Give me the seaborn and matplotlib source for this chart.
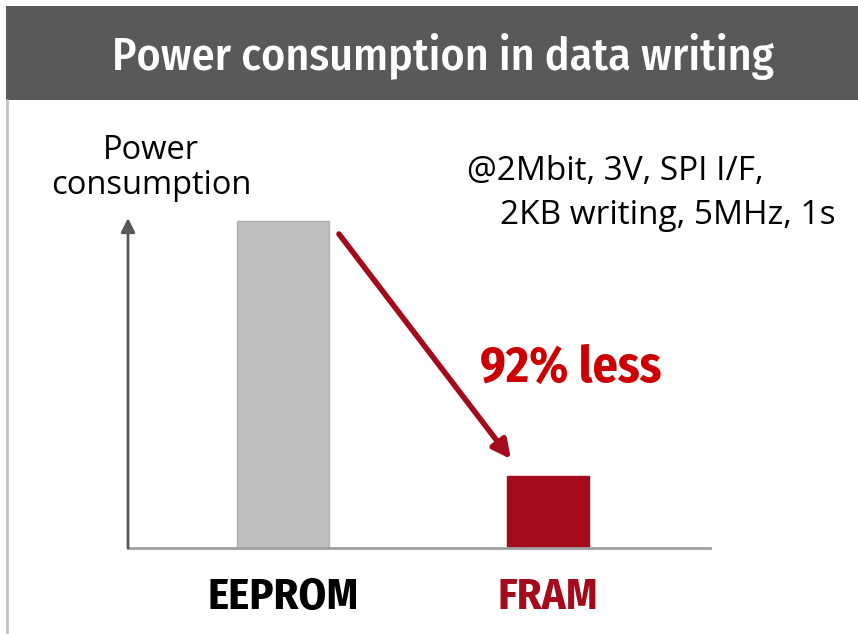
import matplotlib
matplotlib.use("Agg")
import matplotlib.pyplot as plt
import seaborn as sns
import pandas as pd
from matplotlib.patches import Rectangle
from matplotlib.lines import Line2D

# ---- data ----
categories = ["EEPROM", "FRAM"]
power_values = [100, 22]
title_text = "Power consumption in data writing"
ylabel_text = "Power\nconsumption"
condition_lines = ["@2Mbit, 3V, SPI I/F,", "2KB writing, 5MHz, 1s"]
reduction_text = "92% less"

bar_colors = ["#BFBFBF", "#A30B1D"]
label_colors = ["#000000", "#A30B1D"]

COND = ["Fira Sans Condensed", "DejaVu Sans"]

sns.set_theme(style="white")
plt.rcParams["font.family"] = ["Open Sans", "DejaVu Sans"]

W, H = 858, 634
fig = plt.figure(figsize=(W / 100, H / 100), dpi=100)
fig.patch.set_facecolor("white")

# axes placed in pixel space
left, right, top, bottom = 128, 710, 218, 548
ax = fig.add_axes([left / W, (H - bottom) / H, (right - left) / W, (bottom - top) / H])

df = pd.DataFrame({"chip": categories, "power": power_values})
sns.barplot(data=df, x="chip", y="power", hue="chip", palette=bar_colors,
            legend=False, width=0.33, ax=ax, saturation=1)

widths = [0.347, 0.31]
for p, w, c in zip(ax.patches, widths, bar_colors):
    cx = p.get_x() + p.get_width() / 2
    p.set_width(w)
    p.set_x(cx - w / 2)
    p.set_edgecolor("#AFAFAF" if c == "#BFBFBF" else c)
    p.set_linewidth(1)

ax.set_xlim(-0.585, 1.611)
ax.set_ylim(0, 101)
ax.set_xticks([])
ax.set_yticks([])
ax.set_xlabel("")
ax.set_ylabel("")
for s in ["top", "right", "left"]:
    ax.spines[s].set_visible(False)
ax.spines["bottom"].set_color("#A0A0A0")
ax.spines["bottom"].set_linewidth(2)

# y axis arrow
ax.annotate("", xy=(0, 1.0), xytext=(0, 0), xycoords="axes fraction",
            arrowprops=dict(arrowstyle="-|>,head_length=0.7,head_width=0.35",
                            color="#595959", lw=2, shrinkA=0, shrinkB=0))

# red reduction arrow from EEPROM top area to FRAM bar
ax.annotate("", xy=(0.86, power_values[1] + 5.2), xytext=(0.211, power_values[0] * 0.961),
            xycoords="data",
            arrowprops=dict(arrowstyle="-|>,head_length=0.9,head_width=0.45",
                            color="#A30B1D", lw=4, shrinkA=0, shrinkB=0))

# category labels
for i, (cat, col) in enumerate(zip(categories, label_colors)):
    ax.text(i, -0.152, cat, transform=ax.get_xaxis_transform(), ha="center", va="center",
            fontsize=32, fontweight="bold", color=col, family=COND)

# title bar
fig.patches.append(Rectangle((6 / W, (H - 100) / H), 1 - 6 / W, 94 / H,
                             transform=fig.transFigure, facecolor="#595959",
                             edgecolor="none", zorder=0))
fig.lines.append(Line2D([7 / W, 7 / W], [0, (H - 100) / H], transform=fig.transFigure,
                        color="#C0C0C0", lw=2))
fig.text(443 / W, 1 - 57 / H, title_text, ha="center", va="center", color="white",
         fontsize=33, fontweight="medium", family=COND)

# y label
fig.text(151 / W, 1 - 168 / H, ylabel_text, ha="center", va="center", fontsize=23.5,
         linespacing=1.1, color="#000000")

# condition text
fig.text(467 / W, 1 - 172 / H, condition_lines[0], ha="left", va="center", fontsize=24,
         color="#000000")
fig.text(500 / W, 1 - 216 / H, condition_lines[1], ha="left", va="center", fontsize=24,
         color="#000000")

# reduction text
fig.text(571 / W, 1 - 369 / H, reduction_text, ha="center", va="center", fontsize=36,
         fontweight="bold", color="#CC0000", family=COND)

fig.savefig("out.png", dpi=100)
